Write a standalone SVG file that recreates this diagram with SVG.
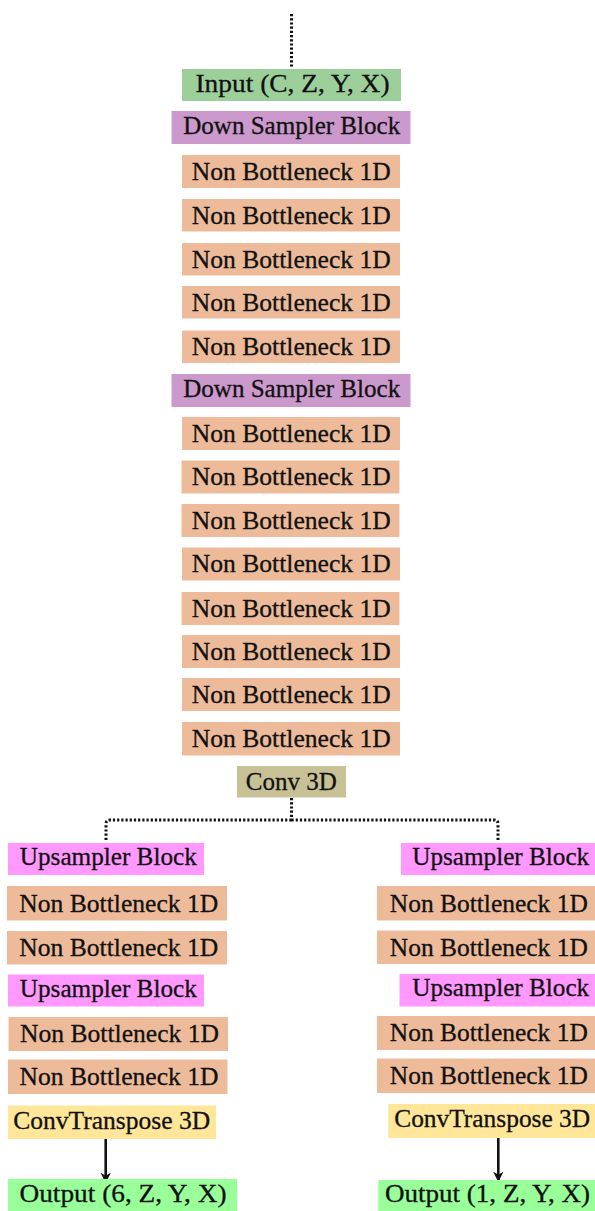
<svg xmlns="http://www.w3.org/2000/svg" width="595" height="1211" viewBox="0 0 595 1211">
<defs>
<style>
text{font-family:"Liberation Serif","Times New Roman",serif;font-size:25px;fill:#111;stroke:#111;stroke-width:0.3;text-anchor:middle}
.in{fill:#9dcf9b}
.ds{fill:#cc99cc}
.nb{fill:#edbb99}
.cv{fill:#c9c196}
.up{fill:#ff99ff}
.ct{fill:#ffe699}
.out{fill:#99ff99}
.dot{fill:none;stroke:#111;stroke-width:3;stroke-dasharray:2.2 2}
.arr{fill:none;stroke:#111;stroke-width:2.6}
</style>
<marker id="ah" viewBox="0 0 10 10" refX="9" refY="5" markerWidth="4" markerHeight="4.5" orient="auto" markerUnits="strokeWidth">
<path d="M0,0 L10,5 L0,10 L3,5 Z" fill="#111"/>
</marker>
</defs>
<rect width="595" height="1211" fill="#fff"/>

<g id="connectors">
<path class="dot" d="M291.5,14 V68"/>
<path class="dot" d="M291.5,798 V820 M291.5,820 H110 Q106,820 106,824 V842 M291.5,820 H494 Q498,820 498,824 V842"/>
<path class="arr" d="M105.7,1139 V1182" marker-end="url(#ah)"/>
<path class="arr" d="M498.3,1138 V1181" marker-end="url(#ah)"/>
</g>

<g id="input"><rect class="in" x="182" y="69" width="219" height="32"/><text x="292.5" y="91.5" textLength="194" lengthAdjust="spacingAndGlyphs">Input (C, Z, Y, X)</text></g>
<g id="ds1"><rect class="ds" x="171.5" y="111" width="239" height="33"/><text x="291.7" y="133.5" textLength="217" lengthAdjust="spacingAndGlyphs">Down Sampler Block</text></g>
<g id="nb1"><rect class="nb" x="182" y="155" width="218" height="33"/><text x="291.3" y="180" textLength="199" lengthAdjust="spacingAndGlyphs">Non Bottleneck 1D</text></g>
<g id="nb2"><rect class="nb" x="182" y="199" width="218" height="32.5"/><text x="291.3" y="223.5" textLength="199" lengthAdjust="spacingAndGlyphs">Non Bottleneck 1D</text></g>
<g id="nb3"><rect class="nb" x="182" y="243" width="218" height="32.5"/><text x="291.3" y="267.5" textLength="199" lengthAdjust="spacingAndGlyphs">Non Bottleneck 1D</text></g>
<g id="nb4"><rect class="nb" x="182" y="286" width="218" height="32.5"/><text x="291.3" y="310.5" textLength="199" lengthAdjust="spacingAndGlyphs">Non Bottleneck 1D</text></g>
<g id="nb5"><rect class="nb" x="182" y="330.5" width="218" height="32.5"/><text x="291.3" y="355" textLength="199" lengthAdjust="spacingAndGlyphs">Non Bottleneck 1D</text></g>
<g id="ds2"><rect class="ds" x="171.5" y="374" width="239" height="33"/><text x="291.7" y="396.5" textLength="217" lengthAdjust="spacingAndGlyphs">Down Sampler Block</text></g>
<g id="nb6"><rect class="nb" x="182" y="417" width="218" height="33"/><text x="291.3" y="441.8" textLength="199" lengthAdjust="spacingAndGlyphs">Non Bottleneck 1D</text></g>
<g id="nb7"><rect class="nb" x="181.5" y="460.5" width="218" height="33"/><text x="291.3" y="485.3" textLength="199" lengthAdjust="spacingAndGlyphs">Non Bottleneck 1D</text></g>
<g id="nb8"><rect class="nb" x="181.5" y="504" width="218" height="33"/><text x="291.3" y="528.8" textLength="199" lengthAdjust="spacingAndGlyphs">Non Bottleneck 1D</text></g>
<g id="nb9"><rect class="nb" x="182" y="547.5" width="218" height="33"/><text x="291.3" y="572.3" textLength="199" lengthAdjust="spacingAndGlyphs">Non Bottleneck 1D</text></g>
<g id="nb10"><rect class="nb" x="181.5" y="592" width="218" height="33"/><text x="291.3" y="616.8" textLength="199" lengthAdjust="spacingAndGlyphs">Non Bottleneck 1D</text></g>
<g id="nb11"><rect class="nb" x="182" y="635" width="218" height="33"/><text x="291.3" y="659.8" textLength="199" lengthAdjust="spacingAndGlyphs">Non Bottleneck 1D</text></g>
<g id="nb12"><rect class="nb" x="182" y="678" width="218" height="33"/><text x="291.3" y="702.8" textLength="199" lengthAdjust="spacingAndGlyphs">Non Bottleneck 1D</text></g>
<g id="nb13"><rect class="nb" x="182" y="722" width="218" height="33.5"/><text x="291.3" y="747" textLength="199" lengthAdjust="spacingAndGlyphs">Non Bottleneck 1D</text></g>
<g id="conv3d"><rect class="cv" x="237" y="766" width="109" height="31.5"/><text x="291.3" y="790" textLength="91" lengthAdjust="spacingAndGlyphs">Conv 3D</text></g>

<g id="l_up1"><rect class="up" x="8" y="843" width="196" height="32"/><text x="108.3" y="865" textLength="177" lengthAdjust="spacingAndGlyphs">Upsampler Block</text></g>
<g id="l_nb1"><rect class="nb" x="7" y="886" width="220" height="34.5"/><text x="118.8" y="911.5" textLength="199" lengthAdjust="spacingAndGlyphs">Non Bottleneck 1D</text></g>
<g id="l_nb2"><rect class="nb" x="7" y="931" width="220" height="33.5"/><text x="118.8" y="956" textLength="199" lengthAdjust="spacingAndGlyphs">Non Bottleneck 1D</text></g>
<g id="l_up2"><rect class="up" x="8" y="974.5" width="196" height="32"/><text x="108.3" y="996.5" textLength="177" lengthAdjust="spacingAndGlyphs">Upsampler Block</text></g>
<g id="l_nb3"><rect class="nb" x="8.5" y="1017" width="219.5" height="34"/><text x="119.5" y="1042" textLength="199" lengthAdjust="spacingAndGlyphs">Non Bottleneck 1D</text></g>
<g id="l_nb4"><rect class="nb" x="8" y="1059.5" width="219.5" height="34.5"/><text x="119" y="1085" textLength="199" lengthAdjust="spacingAndGlyphs">Non Bottleneck 1D</text></g>
<g id="l_ct"><rect class="ct" x="8" y="1105.5" width="208" height="33.5"/><text x="111.7" y="1128.5" textLength="197" lengthAdjust="spacingAndGlyphs">ConvTranspose 3D</text></g>
<g id="l_out"><rect class="out" x="8" y="1179" width="229" height="32"/><text x="123" y="1201.5" textLength="207" lengthAdjust="spacingAndGlyphs">Output (6, Z, Y, X)</text></g>

<g id="r_up1"><rect class="up" x="401" y="843" width="200" height="32"/><text x="500.7" y="865" textLength="177" lengthAdjust="spacingAndGlyphs">Upsampler Block</text></g>
<g id="r_nb1"><rect class="nb" x="377" y="886" width="224" height="34.5"/><text x="488.8" y="911.5" textLength="198" lengthAdjust="spacingAndGlyphs">Non Bottleneck 1D</text></g>
<g id="r_nb2"><rect class="nb" x="377" y="930.5" width="224" height="33.5"/><text x="488.8" y="955.5" textLength="198" lengthAdjust="spacingAndGlyphs">Non Bottleneck 1D</text></g>
<g id="r_up2"><rect class="up" x="399.5" y="974" width="201" height="32.5"/><text x="500.7" y="996" textLength="177" lengthAdjust="spacingAndGlyphs">Upsampler Block</text></g>
<g id="r_nb3"><rect class="nb" x="377" y="1016" width="224" height="34"/><text x="488.8" y="1041" textLength="198" lengthAdjust="spacingAndGlyphs">Non Bottleneck 1D</text></g>
<g id="r_nb4"><rect class="nb" x="377" y="1058.5" width="224" height="34.5"/><text x="488.8" y="1084" textLength="198" lengthAdjust="spacingAndGlyphs">Non Bottleneck 1D</text></g>
<g id="r_ct"><rect class="ct" x="388.3" y="1104" width="212" height="34"/><text x="492.2" y="1127" textLength="196" lengthAdjust="spacingAndGlyphs">ConvTranspose 3D</text></g>
<g id="r_out"><rect class="out" x="378.3" y="1180" width="222" height="31"/><text x="487.5" y="1202" textLength="205" lengthAdjust="spacingAndGlyphs">Output (1, Z, Y, X)</text></g>
</svg>
